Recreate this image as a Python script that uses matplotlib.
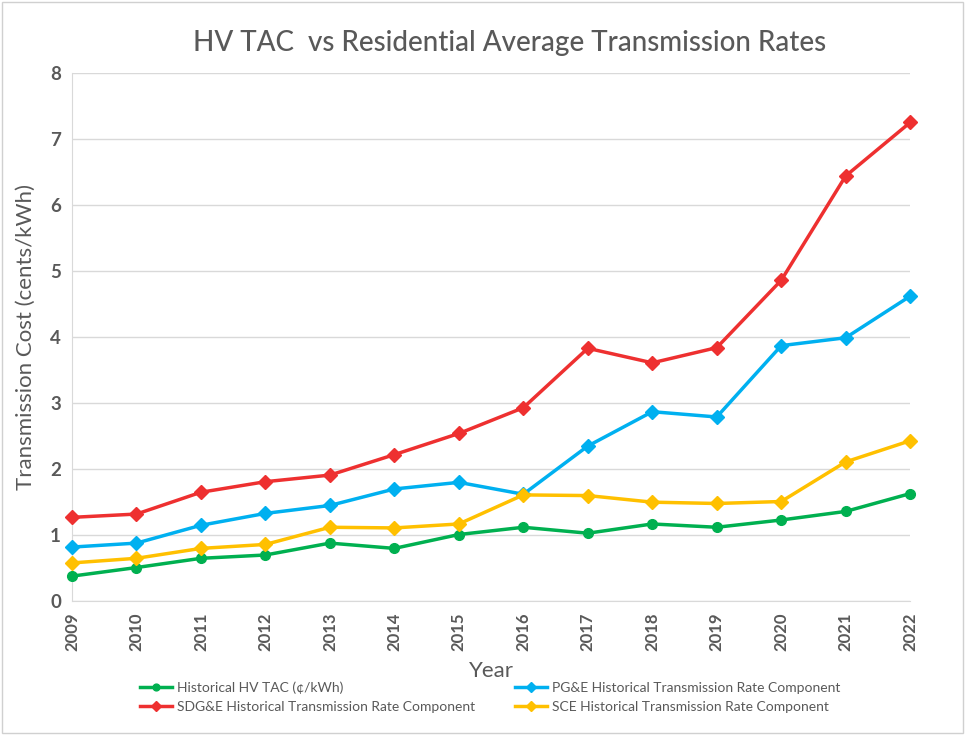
import matplotlib.pyplot as plt
from matplotlib.patches import Rectangle

plt.rcParams['font.family'] = ['Lato', 'DejaVu Sans']

years = list(range(2009, 2023))

hv_tac = [0.38, 0.51, 0.65, 0.70, 0.88, 0.80, 1.01, 1.12, 1.03, 1.17, 1.12, 1.23, 1.36, 1.63]
pge = [0.82, 0.88, 1.15, 1.33, 1.45, 1.70, 1.80, 1.62, 2.35, 2.87, 2.79, 3.87, 3.99, 4.62]
sdge = [1.27, 1.32, 1.65, 1.81, 1.91, 2.22, 2.54, 2.93, 3.83, 3.61, 3.84, 4.86, 6.44, 7.25]
sce = [0.58, 0.65, 0.80, 0.86, 1.12, 1.11, 1.17, 1.61, 1.60, 1.50, 1.48, 1.51, 2.11, 2.43]

series_names = [
    'Historical HV TAC (\u00a2/kWh)',
    'PG&E Historical Transmission Rate Component',
    'SDG&E Historical Transmission Rate Component',
    'SCE Historical Transmission Rate Component',
]
series_values = [hv_tac, pge, sdge, sce]
series_colors = ['#00B050', '#00B0F0', '#EE3030', '#FFC000']
series_markers = ['o', 'D', 'D', 'D']

fig = plt.figure(figsize=(9.65, 7.35), dpi=100)
ax = fig.add_axes([0.0746, 0.182, 0.8686, 0.7188])

# ------------------------------------------------
# LINES
# ------------------------------------------------

handles = []
for name, vals, col, mk in zip(series_names, series_values, series_colors, series_markers):
    h, = ax.plot(
        years,
        vals,
        color=col,
        linewidth=2.5,
        marker=mk,
        markersize=7 if mk == 'o' else 7.5,
        label=name,
        clip_on=False,
        zorder=3
    )
    handles.append(h)

# ------------------------------------------------
# AXES SETTINGS
# ------------------------------------------------

gray = '#595959'

ax.set_xlim(2009, 2022)
ax.set_ylim(0, 8)
ax.set_xticks(years)
ax.set_xticklabels([str(y) for y in years], rotation=90, fontsize=12,
                   fontweight='bold', color=gray)
ax.set_yticks(range(0, 9))
ax.set_yticklabels([str(v) for v in range(0, 9)], fontsize=13.5,
                   fontweight='bold', color=gray)

ax.grid(axis='y', color='#D9D9D9', linewidth=1)
ax.set_axisbelow(True)

for side in ['top', 'right']:
    ax.spines[side].set_visible(False)
ax.spines['left'].set_color('#D9D9D9')
ax.spines['bottom'].set_color('#D9D9D9')
ax.tick_params(axis='both', length=0, pad=8)

ax.set_xlabel('Year', fontsize=16, color=gray, labelpad=7)
ax.set_ylabel('Transmission Cost (cents/kWh)', fontsize=16, color=gray, labelpad=10)

fig.text(0.528, 0.942, 'HV TAC  vs Residential Average Transmission Rates',
         ha='center', va='center', fontsize=20, color=gray, fontweight='medium')

# legend is filled column by column, so order gives row-wise layout
order = [0, 2, 1, 3]
leg = fig.legend(
    [handles[i] for i in order],
    [series_names[i] for i in order],
    loc='center',
    bbox_to_anchor=(0.508, 0.051),
    ncol=2,
    frameon=False,
    fontsize=10,
    columnspacing=2.9,
    handlelength=2.3,
    handletextpad=0.35,
    labelspacing=0.5,
    markerscale=0.7
)
for t in leg.get_texts():
    t.set_color(gray)

# outer border
fig.patches.append(Rectangle((0.002, 0.003), 0.996, 0.994, transform=fig.transFigure,
                             fill=False, edgecolor='#D0D0D0', linewidth=1))

fig.savefig('out.png', dpi=100)
